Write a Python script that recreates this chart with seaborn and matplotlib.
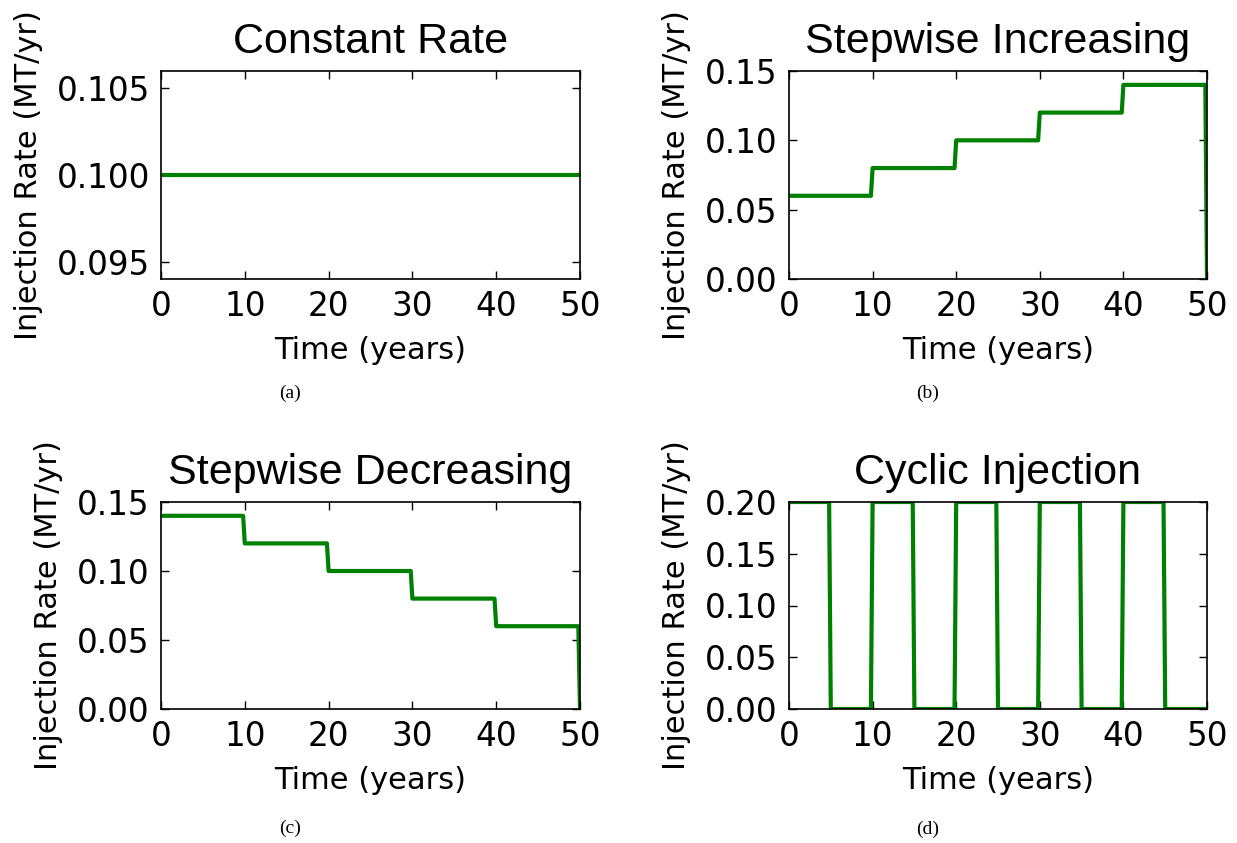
import numpy as np
import pandas as pd
import matplotlib
matplotlib.use("Agg")
import matplotlib.pyplot as plt
import seaborn as sns

# ==============================
# Data
# ==============================
const_t = [0, 50]
const_rate = [0.1, 0.1]

inc_t = [0, 9.8, 10.0, 19.8, 20.0, 29.8, 30.0, 39.8, 40.0, 49.8, 50.0]
inc_rate = [0.06, 0.06, 0.08, 0.08, 0.10, 0.10, 0.12, 0.12, 0.14, 0.14, 0.0]

dec_t = [0, 9.8, 10.0, 19.8, 20.0, 29.8, 30.0, 39.8, 40.0, 49.8, 50.0]
dec_rate = [0.14, 0.14, 0.12, 0.12, 0.10, 0.10, 0.08, 0.08, 0.06, 0.06, 0.0]

cyc_t = [0, 4.8, 5.0, 9.8, 10.0, 14.8, 15.0, 19.8, 20.0, 24.8, 25.0, 29.8,
         30.0, 34.8, 35.0, 39.8, 40.0, 44.8, 45.0, 50.0]
cyc_rate = [0.2, 0.2, 0.0, 0.0, 0.2, 0.2, 0.0, 0.0, 0.2, 0.2, 0.0, 0.0,
            0.2, 0.2, 0.0, 0.0, 0.2, 0.2, 0.0, 0.0]

titles = ["Constant Rate", "Stepwise Increasing", "Stepwise Decreasing", "Cyclic Injection"]
captions = ["(a)", "(b)", "(c)", "(d)"]
x_ticks = [0, 10, 20, 30, 40, 50]
y_ticks = [
    [0.095, 0.100, 0.105],
    [0.00, 0.05, 0.10, 0.15],
    [0.00, 0.05, 0.10, 0.15],
    [0.00, 0.05, 0.10, 0.15, 0.20],
]
y_fmt = ["{:.3f}", "{:.2f}", "{:.2f}", "{:.2f}"]
y_lims = [(0.094, 0.106), (0, 0.15), (0, 0.15), (0, 0.2)]

series = [(const_t, const_rate), (inc_t, inc_rate), (dec_t, dec_rate), (cyc_t, cyc_rate)]

# ==============================
# Style (old matplotlib look: inward ticks on all sides)
# ==============================
sns.set_style("ticks")
plt.rcParams["font.family"] = ["DejaVu Sans"]
plt.rcParams["xtick.direction"] = "in"
plt.rcParams["ytick.direction"] = "in"
plt.rcParams["xtick.top"] = True
plt.rcParams["ytick.right"] = True
plt.rcParams["axes.edgecolor"] = "black"
plt.rcParams["axes.linewidth"] = 1.2
plt.rcParams["text.color"] = "black"
plt.rcParams["axes.labelcolor"] = "black"
plt.rcParams["xtick.color"] = "black"
plt.rcParams["ytick.color"] = "black"

fig = plt.figure(figsize=(12.37, 8.43), dpi=100)

W, H = 1237, 843
boxes = [(161, 71, 580, 279), (789, 71, 1207, 279),
         (161, 502, 580, 709), (789, 502, 1207, 709)]
cap_pos = [(290, 393), (928, 393), (290, 828), (928, 829)]

for i, (l, t, r, b) in enumerate(boxes):
    ax = fig.add_axes([l / W, 1 - b / H, (r - l) / W, (b - t) / H])
    x, y = series[i]
    df = pd.DataFrame({"Time": x, "Rate": y})
    sns.lineplot(data=df, x="Time", y="Rate", ax=ax, color="green",
                 linewidth=3, estimator=None, sort=False)
    ax.set_xlim(0, 50)
    ax.set_ylim(*y_lims[i])
    ax.set_xticks(x_ticks)
    ax.set_yticks(y_ticks[i])
    ax.set_yticklabels([y_fmt[i].format(v) for v in y_ticks[i]])
    ax.tick_params(axis="both", which="major", labelsize=23.5, length=6,
                   width=1, pad=8)
    ax.set_xlabel("Time (years)", fontsize=22, labelpad=9)
    ax.set_ylabel("Injection Rate (MT/yr)", fontsize=22, labelpad=10)
    ax.set_title(titles[i], fontsize=31, pad=13,
                 family=["Liberation Sans", "DejaVu Sans"])

    cx, cy = cap_pos[i]
    fig.text(cx / W, 1 - cy / H, captions[i], ha="center", va="center",
             fontsize=14, family=["Liberation Serif", "DejaVu Serif"])

fig.savefig("out.png", dpi=100, facecolor="white")
